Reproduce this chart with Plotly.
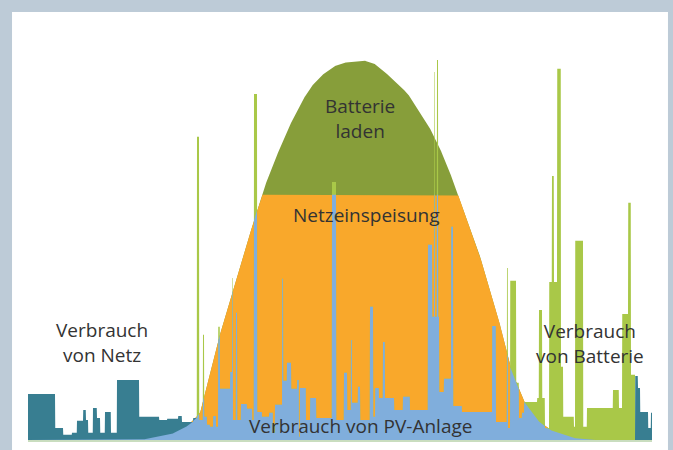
import numpy as np
import plotly.graph_objects as go

# ---------------- data (hours of day, kW) ----------------
# household load: step starts (h) and level (kW)
load_start = [0.00, 1.04, 1.35, 1.69, 1.88, 2.12, 2.23, 2.31, 2.50, 2.65, 2.77, 2.96, 3.19, 3.42,
              4.27, 5.04, 5.35, 5.77, 5.92, 6.35, 6.50, 6.58, 6.73, 6.77, 6.88, 7.00, 7.12, 7.23,
              7.31, 7.38, 7.77, 7.85, 7.88, 8.00, 8.04, 8.19, 8.42, 8.62, 8.69, 8.81, 9.00, 9.27,
              9.42, 9.50, 9.77, 9.81, 9.96, 10.12, 10.35, 10.42, 10.46, 10.69, 10.85, 11.08, 11.69,
              11.85, 12.15, 12.27, 12.42, 12.46, 12.69, 12.77, 13.15, 13.27, 13.35, 13.50, 13.65,
              13.73, 14.08, 14.42, 14.69, 15.38, 15.54, 15.62, 15.65, 15.73, 15.77, 15.81, 16.00,
              16.27, 16.35, 16.69, 17.85, 18.00, 18.42, 18.46, 18.54, 18.77, 18.88, 19.00, 19.08,
              19.58, 19.65, 19.77, 19.88, 20.04, 20.15, 20.23, 20.35, 20.50, 20.58, 21.00, 21.04,
              21.35, 21.50, 22.50, 22.73, 22.85, 23.08, 23.19, 23.35, 23.46, 23.54, 23.85, 23.96]
load_kw = [1.15, 0.30, 0.13, 0.18, 0.48, 0.75, 0.50, 0.18, 0.80, 0.55, 0.18, 0.70, 0.18, 1.50,
           0.58, 0.50, 0.53, 0.60, 0.45, 0.55, 7.58, 0.50, 2.63, 0.58, 0.38, 0.33, 0.60, 0.33,
           2.83, 1.28, 1.70, 4.05, 0.50, 3.18, 0.50, 0.90, 0.78, 0.50, 8.65, 0.70, 0.58, 0.68,
           0.18, 0.88, 4.03, 1.48, 1.93, 1.28, 1.50, 0.08, 1.30, 0.50, 1.05, 0.55, 6.45,
           0.50, 1.68, 0.75, 2.50, 0.93, 1.33, 0.50, 3.33, 0.58, 1.30, 1.05, 2.45,
           1.05, 0.75, 1.08, 0.75, 4.88, 3.08, 9.20, 3.08, 9.50, 3.08, 1.20, 1.53,
           5.33, 0.85, 0.70, 2.85, 0.45, 4.30, 0.30, 3.98, 1.43, 0.55, 0.68, 0.95,
           1.05, 3.25, 1.05, 0.30, 3.95, 6.60, 3.95, 9.28, 1.83, 0.58, 0.33, 4.98,
           0.33, 0.80, 1.25, 0.80, 3.15, 5.93, 1.63, 1.60, 1.30, 0.70, 0.30, 0.68]

# PV generation samples
pv_h = [0.0, 4.31, 5.46, 6.04, 6.35, 6.62, 7.19, 7.77, 8.35, 8.99, 9.31, 9.69, 10.08, 10.46,
        10.85, 11.23, 11.73, 12.12, 12.38, 12.96, 13.27, 13.65, 14.04, 14.58, 14.96, 15.35,
        15.73, 16.12, 16.54, 17.27, 18.04, 18.54, 19.04, 19.58, 20.08, 20.96, 21.62, 24.0]
pv_kw = [0.0, 0.0, 0.13, 0.30, 0.48, 0.68, 2.20, 3.50, 4.75, 6.13, 6.70, 7.30, 7.88, 8.38,
         8.80, 9.08, 9.33, 9.43, 9.45, 9.48, 9.43, 9.25, 9.00, 8.68, 8.30, 7.93,
         7.45, 6.88, 6.13, 4.83, 3.18, 1.83, 1.00, 0.50, 0.25, 0.05, 0.0, 0.0]

feed_in_limit = 6.13      # kW
grid_until = 6.50         # h: before this, extra load from grid
grid_from = 23.35         # h: after this, extra load from grid

# ---------------- derived layers ----------------
t = np.linspace(0, 24, 24 * 26 * 4 + 1)
idx = np.searchsorted(np.array(load_start), t, side="right") - 1
L = np.array(load_kw)[idx]
P = np.interp(t, pv_h, pv_kw)
grid_mask = (t < grid_until) | (t >= grid_from)

olive = P
orange = np.minimum(P, feed_in_limit)
green = np.where(grid_mask, 0, L)
teal = np.where(grid_mask, L, 0)
blue = np.minimum(np.minimum(L, P), feed_in_limit)

C_TEAL = "#387E91"
C_BLUE = "#80AEDC"
C_ORANGE = "#F9A82B"
C_OLIVE = "#879E3A"
C_GREEN = "#A9C848"
C_BORDER = "#BDCBD7"

fig = go.Figure()
for y, c in [(olive, C_OLIVE), (orange, C_ORANGE), (green, C_GREEN), (teal, C_TEAL), (blue, C_BLUE)]:
    fig.add_trace(go.Scatter(x=t, y=y, mode="lines", fill="tozeroy", fillcolor=c,
                             line=dict(width=0, color=c), hoverinfo="skip", showlegend=False))

font = dict(family="Open Sans", size=19, color="#333333")
labels = [
    (2.85, 2.45, "Verbrauch<br>von Netz"),
    (12.77, 8.05, "Batterie<br>laden"),
    (13.0, 5.62, "Netzeinspeisung"),
    (12.77, 0.36, "Verbrauch von PV-Anlage"),
    (21.6, 2.42, "Verbrauch<br>von Batterie"),
]
for x, y, s in labels:
    fig.add_annotation(x=x, y=y, text=s, showarrow=False, font=font, xanchor="center", yanchor="middle")

fig.add_shape(type="rect", xref="paper", yref="paper", x0=-0.0256, x1=1.0256, y0=-0.05, y1=1.0,
              fillcolor="white", line=dict(width=0), layer="below")

fig.update_layout(
    width=673, height=450,
    margin=dict(l=28, r=21, t=12, b=10),
    paper_bgcolor=C_BORDER, plot_bgcolor="rgba(0,0,0,0)",
    xaxis=dict(range=[0, 24], visible=True, showgrid=False, zeroline=False, showticklabels=False,
               showline=True, linecolor="#C9DDBF", linewidth=2, ticks=""),
    yaxis=dict(range=[0, 10.7], visible=False, showgrid=False, zeroline=False),
)
fig.write_html("out.html", config={"displayModeBar": False},
               post_script="document.body.style.margin='0';document.body.style.overflow='hidden';")
